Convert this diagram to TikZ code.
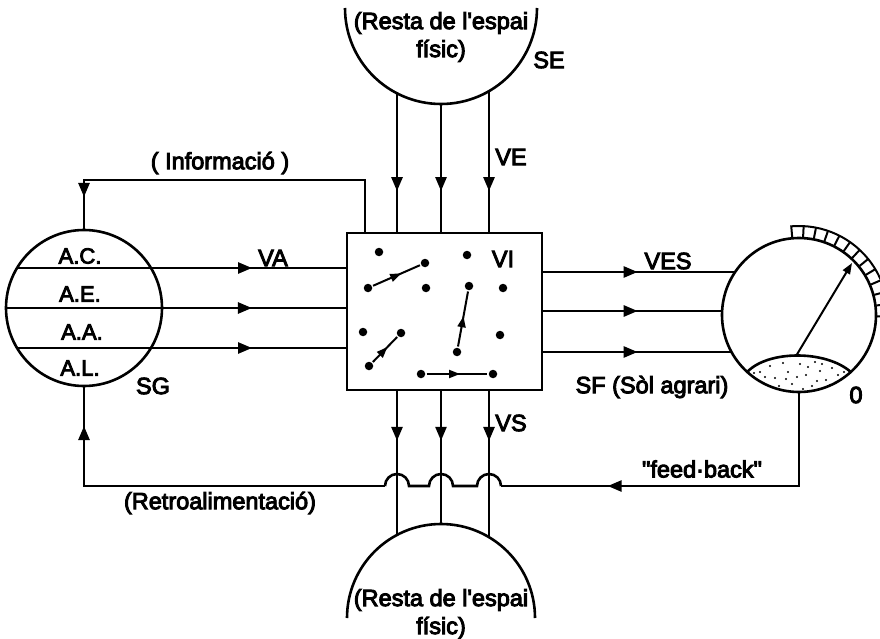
\documentclass[tikz,border=0pt]{standalone}
\usepackage{fontspec}
\setmainfont{Liberation Sans}[FakeBold=4,Ligatures=TeXOff]
\usetikzlibrary{arrows.meta,decorations.markings,calc}
\begin{document}
\begin{tikzpicture}[x=1pt,y=-1pt,line width=2.6pt,
  lbl/.style={font=\fontsize{23.5}{28}\selectfont, inner sep=0pt, align=center},
  sml/.style={font=\fontsize{22}{24}\selectfont, inner sep=0pt},
  midarrow/.style={postaction={decorate},decoration={markings,mark=at position #1 with {\arrow{Triangle[length=14pt,width=11pt]}}}},
  smallarrow/.style={line width=2pt,postaction={decorate},decoration={markings,mark=at position #1 with {\arrow{Triangle[length=11pt,width=8pt]}}}},
  dot/.style={circle,fill,inner sep=0pt,minimum size=8.5pt},
  speck/.style={circle,fill,inner sep=0pt,minimum size=2.4pt}]
\useasboundingbox (0,0) rectangle (880,639);
\fill[white] (0,0) rectangle (880,639);

% central square
\node[draw,minimum width=195pt,minimum height=157pt,inner sep=0pt] (sq) at (444.5,311.5) {};

% left circle SG
\node[circle,draw,minimum size=156pt,inner sep=0pt] (sg) at (84,308) {};
\coordinate (c1) at (17,268);
\coordinate (c2) at (6,308);
\coordinate (c3) at (17,348);
\draw[midarrow=0.715] (c1) -- (sq.west |- c1);
\draw[midarrow=0.724] (c2) -- (sq.west |- c2);
\draw[midarrow=0.715] (c3) -- (sq.west |- c3);
\node[sml] (lac) at (80,256) {A.C.};
\node[sml] (lae) at (80,294) {A.E.};
\node[sml] (laa) at (82,332) {A.A.};
\node[sml] (lal) at (80,368) {A.L.};
\node[lbl] (lsg) at (153,386) {SG};
\node[lbl] (lva) at (273,258) {VA};

% top half circle SE
\draw (345,8) arc[start angle=180,end angle=0,radius=96];
\coordinate (t1) at (397,93.3);
\coordinate (t2) at (441,104);
\coordinate (t3) at (489,91.1);
\draw[midarrow=0.707] (t1) -- (sq.north -| t1);
\draw[midarrow=0.682] (t2) -- (sq.north -| t2);
\draw[midarrow=0.711] (t3) -- (sq.north -| t3);
\node[lbl] (lse1) at (441,37) {(Resta de l'espai\\físic)};
\node[lbl] (lse) at (549,60) {SE};
\node[lbl] (lve) at (511,157) {VE};

% bottom half circle
\draw (347,618) arc[start angle=180,end angle=360,radius=94];
\coordinate (b1) at (397,534.9);
\coordinate (b2) at (441,524);
\coordinate (b3) at (489,537.2);
\draw[midarrow=0.345] (sq.south -| b1) -- (b1);
\draw[midarrow=0.373] (sq.south -| b2) -- (b2);
\draw[midarrow=0.34] (sq.south -| b3) -- (b3);
\node[lbl] (lbot) at (441,614) {(Resta de l'espai\\físic)};
\node[lbl] (lvs) at (511,423) {VS};

% right gauge
\node[circle,draw,minimum size=154pt,inner sep=0pt] (gauge) at (799,315) {};
\coordinate (gc) at (799,315);
\coordinate (r1) at (735,272);
\coordinate (r2) at (722.1,311);
\coordinate (r3) at (731.5,352);
\draw[midarrow=0.492] (sq.east |- r1) -- (r1);
\draw[midarrow=0.528] (sq.east |- r2) -- (r2);
\draw[midarrow=0.501] (sq.east |- r3) -- (r3);
\node[lbl] (lves) at (668,261) {VES};
\node[lbl] (lsf) at (652,387) {SF (Sòl agrari)};
\node[lbl] (lzero) at (856,395) {0};
% dotted region
\draw (747.2,372) .. controls (768,350) and (826,350) .. (850.8,372);
\foreach \p in {(760,372),(770,366),(775,378),(783,363),(788,372),(792,384),(800,364),(806,375),(812,386),(815,362),(820,371),(826,380),(832,368),(838,375),(844,372),(765,377),(797,377),(808,367),(822,364),(830,385),(779,386),(786,379),(803,389),(817,381),(754,373)}
  \node[speck] at \p {};
% needle
\coordinate (nb) at (796,356);
\coordinate (nt) at (852,263);
\draw[line width=2pt,-{Triangle[length=11pt,width=8pt]}] (nb) -- (nt);
% scale band
\draw[line width=2pt] ($(gc)+(-95:77)$) -- ($(gc)+(-95:89)$) arc[start angle=-95,end angle=5,radius=89];
\foreach \a in {-87,-79,...,3}
  \draw[line width=2pt] ($(gc)+(\a:78)$) -- ($(gc)+(\a:89)$);

% dots and moves in square
\node[dot] (d1) at (379,252) {};
\node[dot] (d2) at (467,255) {};
\node[dot] (d3) at (426,288) {};
\node[dot] (d4) at (503,288) {};
\node[dot] (d5) at (363,332) {};
\node[dot] (d6) at (500,335) {};
\node[dot] (m1a) at (368,288) {};
\node[dot] (m1b) at (425,263) {};
\node[dot] (m2a) at (457,352) {};
\node[dot] (m2b) at (469,286) {};
\node[dot] (m3a) at (369,366) {};
\node[dot] (m3b) at (401,333) {};
\node[dot] (m4a) at (421,374) {};
\node[dot] (m4b) at (493,374) {};
\draw[smallarrow=0.6] (m1a) -- (m1b);
\draw[smallarrow=0.55] (m2a) -- (m2b);
\draw[smallarrow=0.6] (m3a) -- (m3b);
\draw[smallarrow=0.55] (m4a) -- (m4b);
\node[lbl] (lvi) at (503,259) {VI};

% information loop
\coordinate (iS) at (365,233);
\coordinate (iC1) at (365,180);
\coordinate (iC2) at (84,180);
\draw[midarrow=0.917] (iS) -- (iC1) -- (iC2) -- (sg.north);
\node[lbl] (linfo) at (220,163) {( Informació )};

% feedback loop
\coordinate (fA) at (799,486);
\coordinate (fB) at (501,486);
\coordinate (fC) at (385,486);
\coordinate (fD) at (84,486);
\draw[midarrow=0.727] (gauge.south) -- (fA) -- (fB);
\draw (fB) arc[start angle=0,end angle=-180,radius=12] -- (453,486)
      arc[start angle=0,end angle=-180,radius=12] -- (409,486)
      arc[start angle=0,end angle=-180,radius=12];
\draw[midarrow=0.903] (fC) -- (fD) -- (sg.south);
\node[lbl] (lfb) at (702,469) {"feed·back"};
\node[lbl] (lretro) at (220,503) {(Retroalimentació)};
\end{tikzpicture}
\end{document}
